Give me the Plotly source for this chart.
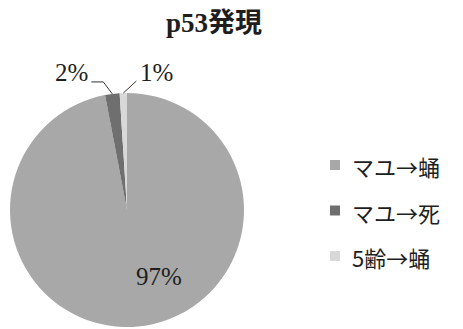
import math
import plotly.graph_objects as go

# ---- data ----
title_text = "p53発現"
labels = ["マユ→蛹", "マユ→死", "5齢→蛹"]
values = [97, 2, 1]
colors = ["#a8a8a8", "#6f6f6f", "#d8d8d8"]
label_sides = ["inside", "left", "right"]

W, H = 463, 329
cx, cy, r = 127, 210, 117  # pie geometry in pixels


def px(x):
    return x / W


def py(y):
    return 1 - y / H


SERIF = "Liberation Serif, Noto Sans CJK JP, serif"
JP = "Noto Sans CJK JP, Liberation Serif, serif"
TXT = "#1e1e1e"

fig = go.Figure(
    go.Pie(
        labels=labels,
        values=values,
        sort=False,
        direction="clockwise",
        rotation=0,
        marker=dict(colors=colors, line=dict(width=0)),
        textinfo="none",
        domain=dict(x=[px(cx - r), px(cx + r)], y=[py(cy + r), py(cy - r)]),
        showlegend=False,
        hoverinfo="label+percent",
    )
)

shapes = []
annotations = []

# data labels with leader lines, positions derived from slice angles
total = sum(values)
cum = 0
for v, side in zip(values, label_sides):
    mid = (cum + v / 2) / total
    cum += v
    th = 2 * math.pi * mid
    pct = f"{round(v / total * 100)}%"
    if side == "inside":
        th_in = th - math.radians(20)
        lx, ly = cx + 0.63 * r * math.sin(th_in), cy - 0.63 * r * math.cos(th_in)
        annotations.append(dict(x=px(lx), y=py(ly), xref="paper", yref="paper",
                                text=pct, showarrow=False, xanchor="center", yanchor="middle",
                                font=dict(family=SERIF, size=25, color=TXT)))
        continue
    ex, ey = cx + r * math.sin(th), cy - r * math.cos(th)
    if side == "left":
        elx, ely = ex - 9, ey - 12
        endx, endy = elx - 12, ely
        path = f"M {px(ex)},{py(ey)} L {px(elx)},{py(ely)} L {px(endx)},{py(endy)}"
        annotations.append(dict(x=px(endx - 1), y=py(endy - 9), xref="paper", yref="paper",
                                text=pct, showarrow=False, xanchor="right", yanchor="middle",
                                font=dict(family=SERIF, size=25, color=TXT)))
    else:
        endx, endy = ex + 13, ey - 12
        path = f"M {px(ex)},{py(ey)} L {px(endx)},{py(endy)}"
        annotations.append(dict(x=px(endx + 2), y=py(endy - 9), xref="paper", yref="paper",
                                text=pct, showarrow=False, xanchor="left", yanchor="middle",
                                font=dict(family=SERIF, size=25, color=TXT)))
    shapes.append(dict(type="path", path=path, xref="paper", yref="paper",
                       line=dict(color="#333333", width=1)))

# legend
leg_x, leg_y0, leg_dy = 330, 165, 45.5
for i, (lab, col) in enumerate(zip(labels, colors)):
    yc = leg_y0 + i * leg_dy
    shapes.append(dict(type="rect", xref="paper", yref="paper",
                       x0=px(leg_x), x1=px(leg_x + 10), y0=py(yc + 5), y1=py(yc - 5),
                       fillcolor=col, line=dict(width=0)))
    annotations.append(dict(x=px(leg_x + 20), y=py(yc + 1), xref="paper", yref="paper",
                            text=lab, showarrow=False, xanchor="left", yanchor="middle",
                            font=dict(family=JP, size=22, color=TXT)))

# title
annotations.append(dict(x=px(214), y=py(23), xref="paper", yref="paper",
                        text=f"<b>{title_text}</b>", showarrow=False,
                        xanchor="center", yanchor="middle",
                        font=dict(family=SERIF, size=27, color=TXT)))

fig.update_layout(
    width=W, height=H,
    margin=dict(l=0, r=0, t=0, b=0),
    paper_bgcolor="white", plot_bgcolor="white",
    shapes=shapes, annotations=annotations,
    showlegend=False,
)

fig.write_html("out.html")
